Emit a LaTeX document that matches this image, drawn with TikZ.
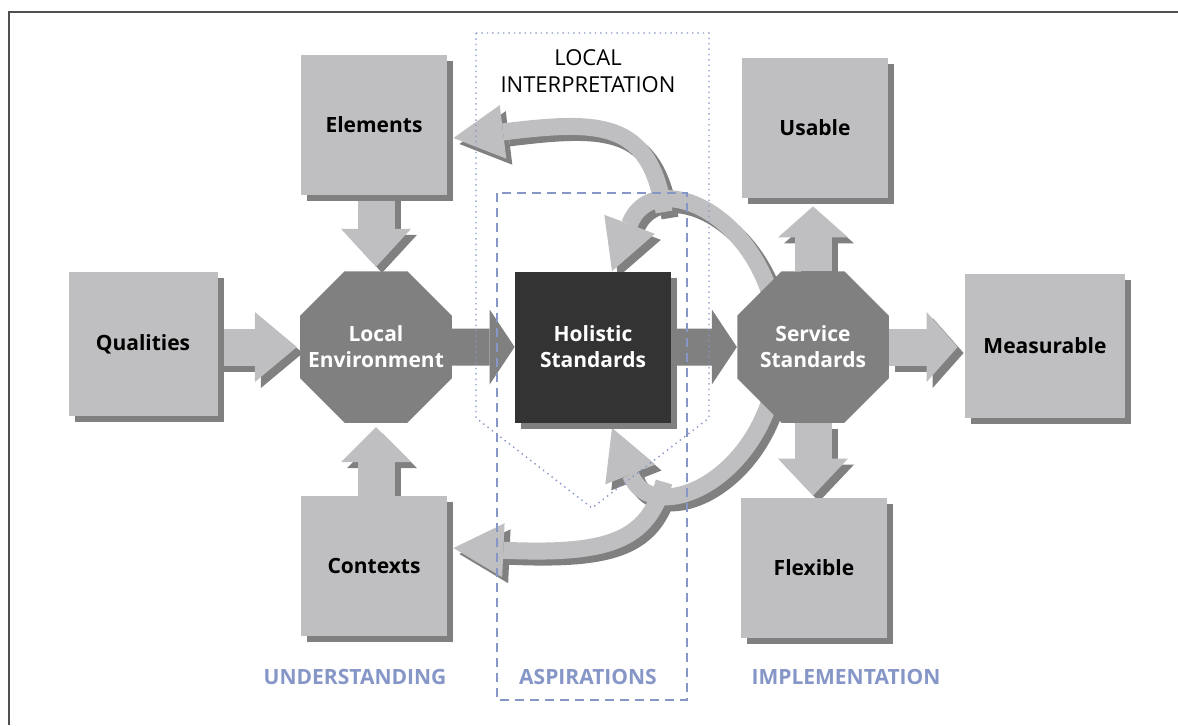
\documentclass[tikz,border=0pt]{standalone}
\usepackage{fontspec}
\setmainfont{Open Sans}
\usepackage{tikz}
\usetikzlibrary{arrows.meta,shapes.geometric,shadows}
\pgfdeclarelayer{background}
\pgfdeclarelayer{foreground}
\pgfsetlayers{background,main,foreground}
\definecolor{boxgray}{RGB}{191,190,193}
\definecolor{shadegray}{RGB}{128,128,128}
\definecolor{coregray}{RGB}{51,51,51}
\definecolor{phaseblue}{RGB}{133,150,199}
\definecolor{framegray}{RGB}{80,80,80}
\colorlet{flowfill}{boxgray}

% light arrows, drawn once as shadow and once on top
\newcommand\lightflows{%
  \draw[push=21pt, shorten >=1.5pt] (Qualities.east |- LocalEnv.west) -- (LocalEnv.west);
  \draw[push=19pt, shorten >=2pt] (Elements.south -| LocalEnv.north) -- (LocalEnv.north);
  \draw[push=17.5pt, shorten >=2pt] (Contexts.north -| LocalEnv.south) -- (LocalEnv.south);
  \draw[push=15.5pt, shorten >=4pt] (Service.north) -- (Service.north |- Usable.south);
  \draw[push=18.5pt, shorten >=1pt] (Service.south) -- (Service.south |- Flexible.north);
  \draw[push=15.5pt, shorten >=3.5pt] (Service.east) -- (Service.east -| Measurable.west);
  \draw[swing] (ForkTop) .. controls (745,205) and (650,170) .. ([xshift=9.5pt]Holistic.north);
  \draw[swing] (SplitTop) .. controls (650,120) and (600,120) .. ([xshift=3pt,yshift=-6.5pt]Elements.east);
  \draw[swing] (ForkLow) .. controls (745,489) and (650,524) .. ([xshift=9.5pt,yshift=-2.5pt]Holistic.south);
  \draw[swing] (SplitLow) .. controls (648,540) and (610,555) .. ([xshift=3pt,yshift=9pt]Contexts.east);
}

\begin{document}
\begin{tikzpicture}[
      x=.5pt, y=-.5pt,
      font=\fontsize{11}{13.75}\selectfont,
      itembox/.style = {
        rectangle, fill=boxgray, minimum width=73pt, minimum height=70pt,
        font=\fontsize{10.5}{13}\selectfont\bfseries,
        drop shadow={shadow xshift=3pt, shadow yshift=-3pt, fill=shadegray, opacity=1},
      },
      hub/.style = {
        regular polygon, regular polygon sides=8, fill=shadegray,
        minimum size=82pt, inner sep=-8pt, text=white, align=center,
        font=\fontsize{10.5}{13}\selectfont\bfseries,
      },
      core/.style = {
        rectangle, fill=coregray, minimum width=78pt, minimum height=75.5pt,
        text=white, align=center, font=\fontsize{10.5}{13}\selectfont\bfseries,
        drop shadow={shadow xshift=3pt, shadow yshift=-3pt, fill=shadegray, opacity=1},
      },
      push/.style = {
        draw=flowfill, line width=18.5pt,
        -{Triangle[length=#1, width=35pt, line width=0pt]},
      },
      push/.default = 19pt,
      passon/.style = {
        draw=shadegray, line width=18.5pt,
        -{Triangle[length=12.5pt, width=37.5pt, line width=0pt]},
      },
      swing/.style = {
        draw=flowfill, line width=8.5pt,
        -{Triangle[length=25pt, width=27pt, line width=0pt]},
      },
      region/.style = { phaseblue, dotted, line width=.7pt },
      aim/.style    = { phaseblue, dash pattern=on 4.5pt off 3pt, line width=1.1pt },
      phase/.style  = { text=phaseblue, font=\fontsize{10.5}{13}\selectfont\bfseries },
      frame/.style  = { framegray, line width=1pt },
    ]
    \useasboundingbox (0,0) rectangle (1178,725);
    \draw[frame] (9,725) -- (9,12) -- (1178,12);

    \node[itembox, minimum width=74.5pt, minimum height=72pt] (Qualities) at (143,344) {Qualities};
    \node[hub] (LocalEnv) at (376,347) {Local\\Environment};
    \node[itembox] (Elements) at (374,125) {Elements};
    \node[itembox] (Contexts) at (374,566) {Contexts};
    \node[core] (Holistic) at (593,347) {Holistic\\Standards};
    \node[hub] (Service) at (813,347) {Service\\Standards};
    \node[itembox] (Usable) at (815,128) {Usable};
    \node[itembox] (Flexible) at (814,568) {Flexible};
    \node[itembox, minimum width=80pt, minimum height=72pt] (Measurable) at (1045,346) {Measurable};

    \coordinate (ForkTop)  at (772,300);
    \coordinate (SplitTop) at (664,212);
    \coordinate (ForkLow)  at (772,394);
    \coordinate (SplitLow) at (664,482);

    \begin{pgfonlayer}{background}
      \begin{scope}[transform canvas={shift={(3pt,-3pt)}}]
        \colorlet{flowfill}{shadegray}
        \lightflows
      \end{scope}
      \lightflows
      \draw[passon] (LocalEnv.east) -- (Holistic.west);
      \draw[passon] (Holistic.east) -- (Service.west);
    \end{pgfonlayer}

    \begin{pgfonlayer}{foreground}
      \draw[region] (476,33) -- (709,33) -- (709,418) -- (592,508) -- (476,418) -- cycle;
      \draw[aim] (497,193) rectangle (687,700);
    \end{pgfonlayer}

    \node[align=center] (Interpretation) at (588,71) {LOCAL\\INTERPRETATION};
    \node[phase] (Understanding) at (355,677) {UNDERSTANDING};
    \node[phase] (Aspirations) at (588,677) {ASPIRATIONS};
    \node[phase] (Implementation) at (846,677) {IMPLEMENTATION};
  \end{tikzpicture}
\end{document}
